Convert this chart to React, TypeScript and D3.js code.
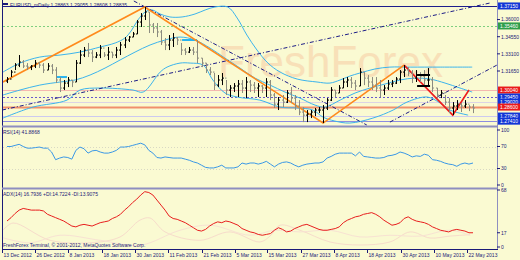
import React from "react";
import * as d3 from "d3";

// ---------- DATA ----------
const highs = [
  1.3114, 1.3173, 1.3232, 1.3300, 1.3258, 1.3232, 1.3215, 1.3258, 1.3241, 1.3232,
  1.3232, 1.3224, 1.3198, 1.3114, 1.3089, 1.3114, 1.3089, 1.3258, 1.3342, 1.3368,
  1.3402, 1.3342, 1.3325, 1.3385, 1.3325, 1.3368, 1.3325, 1.3368, 1.3410, 1.3452,
  1.3461, 1.3495, 1.3596, 1.3655, 1.3706, 1.3664, 1.3571, 1.3571, 1.3512, 1.3444,
  1.3469, 1.3486, 1.3452, 1.3402, 1.3359, 1.3368, 1.3368, 1.3427, 1.3274, 1.3232,
  1.3198, 1.3148, 1.3131, 1.3148, 1.3089, 1.3046, 1.3063, 1.3089, 1.3089, 1.3114,
  1.3089, 1.3072, 1.3063, 1.3046, 1.3105, 1.3089, 1.2979, 1.2945, 1.2962, 1.3004,
  1.3029, 1.2962, 1.2919, 1.2860, 1.2835, 1.2835, 1.2852, 1.2860, 1.2877, 1.2936,
  1.3029, 1.3004, 1.3046, 1.3105, 1.3114, 1.3114, 1.3089, 1.3190, 1.3156, 1.3131,
  1.3114, 1.3114, 1.3089, 1.3046, 1.3089, 1.3089, 1.3114, 1.3173, 1.3215, 1.3198,
  1.3173, 1.3173, 1.3156, 1.3173, 1.3190, 1.3114, 1.3021, 1.3004, 1.2962, 1.2936,
  1.2902, 1.2919, 1.2894, 1.2919, 1.2877, 1.2885,
];
const lows = [
  1.3063, 1.3114, 1.3173, 1.3198, 1.3190, 1.3173, 1.3173, 1.3190, 1.3190, 1.3148,
  1.3173, 1.3139, 1.3063, 1.2987, 1.3004, 1.3029, 1.3029, 1.3072, 1.3224, 1.3283,
  1.3283, 1.3241, 1.3274, 1.3274, 1.3283, 1.3258, 1.3274, 1.3274, 1.3300, 1.3359,
  1.3410, 1.3452, 1.3478, 1.3537, 1.3596, 1.3486, 1.3486, 1.3452, 1.3385, 1.3342,
  1.3342, 1.3368, 1.3385, 1.3300, 1.3300, 1.3317, 1.3300, 1.3232, 1.3198, 1.3148,
  1.3131, 1.3004, 1.3029, 1.3046, 1.2962, 1.2945, 1.2987, 1.2945, 1.2979, 1.2936,
  1.2987, 1.2979, 1.2945, 1.2979, 1.2945, 1.2919, 1.2852, 1.2835, 1.2860, 1.2894,
  1.2894, 1.2835, 1.2792, 1.2733, 1.2733, 1.2767, 1.2784, 1.2809, 1.2725, 1.2835,
  1.2911, 1.2945, 1.2979, 1.3021, 1.3029, 1.3021, 1.3004, 1.3038, 1.3046, 1.3029,
  1.3004, 1.2987, 1.2945, 1.2962, 1.3004, 1.3029, 1.3055, 1.3063, 1.3114, 1.3122,
  1.3063, 1.3072, 1.3072, 1.3038, 1.3046, 1.2987, 1.2936, 1.2936, 1.2877, 1.2809,
  1.2792, 1.2835, 1.2818, 1.2852, 1.2826, 1.2809,
];
const closes = [
  1.3097, 1.3156, 1.3215, 1.3241, 1.3207, 1.3198, 1.3207, 1.3232, 1.3215, 1.3173,
  1.3207, 1.3173, 1.3089, 1.3021, 1.3063, 1.3089, 1.3072, 1.3232, 1.3300, 1.3342,
  1.3317, 1.3283, 1.3300, 1.3359, 1.3300, 1.3325, 1.3300, 1.3342, 1.3385, 1.3427,
  1.3452, 1.3478, 1.3579, 1.3630, 1.3664, 1.3554, 1.3529, 1.3495, 1.3410, 1.3385,
  1.3427, 1.3444, 1.3427, 1.3342, 1.3325, 1.3342, 1.3325, 1.3274, 1.3232, 1.3173,
  1.3156, 1.3046, 1.3089, 1.3105, 1.3004, 1.3021, 1.3038, 1.3055, 1.3021, 1.3072,
  1.3046, 1.3021, 1.3038, 1.3021, 1.3072, 1.2962, 1.2885, 1.2919, 1.2902, 1.2979,
  1.2936, 1.2869, 1.2818, 1.2792, 1.2801, 1.2818, 1.2835, 1.2835, 1.2852, 1.2919,
  1.3004, 1.2979, 1.3021, 1.3072, 1.3089, 1.3063, 1.3038, 1.3156, 1.3105, 1.3072,
  1.3046, 1.3021, 1.3004, 1.3021, 1.3055, 1.3063, 1.3097, 1.3156, 1.3173, 1.3148,
  1.3105, 1.3131, 1.3122, 1.3089, 1.3089, 1.3021, 1.2962, 1.2979, 1.2902, 1.2852,
  1.2869, 1.2885, 1.2869, 1.2885, 1.2860, 1.2852,
];
const firstOpen = 1.3080;

const rsi = [
  70, 70, 72, 74, 70, 67, 67, 68, 69, 67,
  67, 60, 46, 49, 51, 50, 47, 63, 69, 66,
  58, 62, 63, 60, 58, 58, 60, 63, 69, 69,
  70, 72, 74, 76, 73, 63, 58, 50, 49, 51,
  50, 49, 49, 49, 47, 45, 42, 40, 36, 32,
  31, 31, 33, 36, 31, 31, 31, 33, 40, 38,
  40, 40, 38, 40, 43, 38, 33, 38, 41, 42,
  40, 36, 33, 36, 38, 39, 40, 40, 42, 49,
  52, 56, 58, 58, 58, 58, 53, 60, 52, 51,
  50, 49, 49, 50, 53, 54, 56, 60, 58, 55,
  51, 53, 52, 56, 54, 46, 45, 43, 40, 38,
  37, 34, 38, 40, 38, 40,
];
const adx = [
  31, 35, 40, 44, 46, 45, 44, 44, 44, 43,
  39, 37, 35, 33, 31, 28, 25, 24, 26, 27,
  26, 25, 27, 29, 30, 31, 34, 36, 39, 44,
  48, 53, 57, 62, 66, 65, 62, 56, 50, 44,
  37, 34, 33, 31, 29, 26, 23, 20, 19, 21,
  25, 28, 30, 29, 31, 30, 28, 26, 22, 20,
  18, 17, 15, 14, 15, 16, 20, 23, 21, 18,
  19, 22, 24, 26, 27, 25, 23, 21, 20, 20,
  21, 22, 24, 29, 32, 34, 36, 37, 39, 40,
  41, 39, 36, 32, 29, 26, 27, 29, 34, 36,
  33, 31, 30, 29, 27, 24, 22, 20, 19, 18,
  20, 21, 20, 19, 17, 17,
];
const plusDI: [number, number][] = [
  [-1, 20], [1.5, 28.6], [10.6, 8], [20.5, 5], [27.9, 12], [32.8, 32], [35.3, 34.6],
  [39, 18], [47.6, 8], [55, 18], [62.4, 6], [64.9, 13], [67.4, 26], [72.3, 20],
  [79.7, 6], [87.1, 2.4], [94.5, 6], [99.5, 18], [104.4, 10.7], [109.3, 13], [114.3, 14.7],
];
const minusDI: [number, number][] = [
  [-1, 11], [5.7, 5], [13.1, 14], [23, 8], [32.8, 2], [42.7, 20], [50.1, 26],
  [60, 14], [66.1, 20], [72.3, 18], [79.7, 20], [87.1, 12], [94.5, 14],
  [101.9, 13], [109.3, 20], [114.3, 13.9],
];

const bbUpper: [number, number][] = [
  [-1, 1.3156], [3.2, 1.3232], [8.1, 1.3283], [13.1, 1.3300], [18, 1.3325], [23, 1.3368],
  [26.7, 1.3402], [29.1, 1.3444], [30.8, 1.3512], [32.3, 1.3596], [34.1, 1.3664],
  [35.8, 1.3681], [37.8, 1.3647], [40.2, 1.3622], [43.2, 1.3622], [46.4, 1.3647],
  [48.9, 1.3681], [51.3, 1.3706], [54.5, 1.3706], [56.8, 1.3613], [59.2, 1.3469],
  [61.7, 1.3342], [64.4, 1.3232], [67.4, 1.3156], [71.6, 1.3097], [76.5, 1.3072],
  [79.7, 1.3063], [82.2, 1.3089], [84.6, 1.3122], [87.1, 1.3148], [90.8, 1.3182],
  [94.5, 1.3198], [99.5, 1.3198], [106.9, 1.3198], [114.8, 1.3198],
];
const bbMiddle: [number, number][] = [
  [-1, 1.2962], [3.2, 1.3004], [8.1, 1.3046], [13.1, 1.3072], [16.8, 1.3089], [20.5, 1.3131],
  [24.2, 1.3190], [27.9, 1.3258], [31.6, 1.3325], [35.3, 1.3385], [39, 1.3427],
  [42.7, 1.3452], [46.4, 1.3427], [50.1, 1.3359], [53.8, 1.3274], [57.5, 1.3190],
  [61.2, 1.3105], [64.9, 1.3046], [68.6, 1.2987], [72.3, 1.2936], [76, 1.2877],
  [78.5, 1.2860], [82.2, 1.2919], [85.9, 1.2979], [89.6, 1.3021], [93.3, 1.3055],
  [97, 1.3089], [100.7, 1.3105], [104.4, 1.3097], [108.1, 1.3063], [111.8, 1.3021],
  [114.8, 1.2987],
];
const bbLower: [number, number][] = [
  [-1, 1.2767], [6.4, 1.2860], [14.8, 1.2919], [18, 1.3004], [23, 1.3021], [31.1, 1.3004],
  [33.6, 1.2987], [37.8, 1.3156], [39.5, 1.3198], [42.7, 1.3232], [45.2, 1.3232],
  [48.4, 1.3215], [50.8, 1.3089], [53.8, 1.2979], [56.8, 1.2945], [62.4, 1.2919],
  [67.4, 1.2860], [71.6, 1.2852], [75.5, 1.2835], [78, 1.2775], [80.9, 1.2742],
  [84.6, 1.2725], [90.3, 1.2767], [95.3, 1.2835], [98.7, 1.2902], [103.7, 1.2945],
  [106.9, 1.2894], [109.3, 1.2835], [113.8, 1.2792],
];

const zigzagOrange: [number, number][] = [[-1, 1.3072], [34, 1.3706], [78, 1.2725], [98, 1.3215]];
const zigzagRed: [number, number][] = [[98, 1.3215], [110, 1.2792], [114, 1.3004]];
const trendLines: [number, number, number, number][] = [
  [-1.2, 1.2835, 119.2, 1.3740],
  [31.3, 1.3757, 88.8, 1.2708],
  [94.5, 1.2733, 120.9, 1.3215],
];
const cyanMarks: [number, number, number][] = [[12.3, 14.8, 1.3114], [43.2, 46.9, 1.3427]];
const blackMarks: [number, number, number][] = [[101.2, 104.4, 1.3131], [101.2, 104.4, 1.3038]];

const levelPrices = [1.3715, 1.3546, 1.3004, 1.2945, 1.2902, 1.2860, 1.2784, 1.2741];
const levelKinds = ["blue", "green", "red", "blue", "blue", "red", "blue", "blue"];
const priceTicks = [1.36, 1.3455, 1.331, 1.3165];

const dateLabels = [
  "13 Dec 2012", "26 Dec 2012", "8 Jan 2013", "18 Jan 2013", "30 Jan 2013", "11 Feb 2013",
  "21 Feb 2013", "5 Mar 2013", "15 Mar 2013", "27 Mar 2013", "8 Apr 2013", "18 Apr 2013",
  "30 Apr 2013", "10 May 2013", "22 May 2013",
];
const dateIdx = [-1.2, 6.9, 15.05, 23.4, 31.6, 39.7, 48.1, 56.3, 64.2, 72.6, 80.7, 88.8, 97.2, 105.4, 113.5];
const rsiTicks = [100, 70, 30, 0];
const rsiLevels = [70, 30];
const adxTicks = [68, 17, 0];

const headerText = "EURUSD_mDaily 1.28863 1.29055 1.28608 1.28835";
const rsiLabel = "RSI(14) 41.8868";
const adxLabel = "ADX(14) 16.7936 +DI:14.7224 -DI:13.9075";
const copyright = "FreshForex Terminal, \u00a9 2001-2012, MetaQuotes Software Corp.";
const watermark = "FreshForex";

// ---------- STYLES ----------
const BG = "#FAFAD2";
const NAVY = "#1a1a78";
const FRAME = "#8e8ec0";
const FONT = "'Liberation Sans', Arial, sans-serif";
const levelStyles = [
  { stroke: "#1e1e8c", w: 1, dash: undefined },
  { stroke: "#7fcf7f", w: 1, dash: "2,2" },
  { stroke: "#f5b8b0", w: 1, dash: undefined },
  { stroke: "#6a5acd", w: 1, dash: "2,2" },
  { stroke: "#dcd4e4", w: 1, dash: undefined },
  { stroke: "#f0906c", w: 2, dash: undefined },
  { stroke: "#cccaf0", w: 1, dash: undefined },
  { stroke: "#8c8ce0", w: 1, dash: undefined },
];
const boxColors: Record<string, string> = { blue: "#1236d6", green: "#2f9e4a", red: "#ea1a1a" };

const L = 3, R = 497;
const MAIN = { top: 0, bottom: 126 };
const RSIP = { top: 127, bottom: 188 };
const ADXP = { top: 189, bottom: 249 };

export default function App() {
  const x = d3.scaleLinear().domain([0, 115]).range([7, 473]);
  const y = d3.scaleLinear().domain([1.27, 1.374]).range([126, 3]);
  const ry = d3.scaleLinear().domain([0, 100]).range([185, 130]);
  const ay = d3.scaleLinear().domain([0, 68]).range([247, 190]);

  const opens = closes.map((_, i) => (i === 0 ? firstOpen : closes[i - 1]));

  const pairLine = d3
    .line<[number, number]>()
    .x((d) => x(d[0]))
    .y((d) => y(d[1]))
    .curve(d3.curveCatmullRom.alpha(0.5));
  const straight = d3
    .line<[number, number]>()
    .x((d) => x(d[0]))
    .y((d) => y(d[1]));
  const rsiLine = d3
    .line<number>()
    .x((_, i) => x(i))
    .y((d) => ry(d));
  const adxLine = d3
    .line<number>()
    .x((_, i) => x(i))
    .y((d) => ay(d));
  const diLine = d3
    .line<[number, number]>()
    .x((d) => x(d[0]))
    .y((d) => ay(d[1]))
    .curve(d3.curveCatmullRom.alpha(0.5));

  const fmt = d3.format(".5f");

  return (
    <svg
      width={520}
      height={260}
      style={{ position: "fixed", left: 0, top: 0, background: BG }}
      fontFamily={FONT}
    >
      <defs>
        <clipPath id="mainClip">
          <rect x={L} y={MAIN.top} width={R - L} height={MAIN.bottom - MAIN.top} />
        </clipPath>
        <clipPath id="rsiClip">
          <rect x={L} y={RSIP.top} width={R - L} height={RSIP.bottom - RSIP.top} />
        </clipPath>
        <clipPath id="adxClip">
          <rect x={L} y={ADXP.top} width={R - L} height={ADXP.bottom - ADXP.top} />
        </clipPath>
      </defs>
      <rect x={0} y={0} width={520} height={260} fill={BG} />

      {/* ---------- MAIN PANEL ---------- */}
      <g clipPath="url(#mainClip)">
        <text x={218} y={77} fontSize={44} fill="#f7c8a0" opacity={0.5} fontFamily={FONT}>
          {watermark}
        </text>

        {levelPrices.map((p, i) => (
          <line
            key={"lv" + i}
            x1={L}
            x2={R}
            y1={Math.round(y(p)) + 0.5}
            y2={Math.round(y(p)) + 0.5}
            stroke={levelStyles[i].stroke}
            strokeWidth={levelStyles[i].w}
            strokeDasharray={levelStyles[i].dash}
          />
        ))}

        {[bbUpper, bbMiddle, bbLower].map((band, i) => (
          <path key={"bb" + i} d={pairLine(band) || ""} fill="none" stroke="#3cb4ec" strokeWidth={1} />
        ))}

        {trendLines.map((t, i) => (
          <path
            key={"tl" + i}
            d={straight([[t[0], t[1]], [t[2], t[3]]]) || ""}
            fill="none"
            stroke="#1c1c86"
            strokeWidth={1}
            strokeDasharray="4,2,1,2"
          />
        ))}

        {cyanMarks.map((m, i) => (
          <path
            key={"cm" + i}
            d={straight([[m[0], m[2]], [m[1], m[2]]]) || ""}
            stroke="#28b4f0"
            strokeWidth={2}
          />
        ))}

        <path d={straight(zigzagOrange) || ""} fill="none" stroke="#ff8a1c" strokeWidth={1.6} />
        <path d={straight(zigzagRed) || ""} fill="none" stroke="#ee1c1c" strokeWidth={1.6} />

        {closes.map((c, i) => {
          const xi = Math.round(x(i)) + 0.5;
          const o = opens[i];
          const col = c >= o ? "#000000" : "#8c8c80";
          const d = `M${xi},${y(highs[i])}V${y(lows[i])}M${xi - 1.5},${y(o)}H${xi}M${xi},${y(c)}H${xi + 1.5}`;
          return <path key={"b" + i} d={d} stroke={col} strokeWidth={1} fill="none" />;
        })}

        {blackMarks.map((m, i) => (
          <path
            key={"bm" + i}
            d={straight([[m[0], m[2]], [m[1], m[2]]]) || ""}
            stroke="#000"
            strokeWidth={2}
          />
        ))}

        <rect x={3} y={3} width={5} height={2} fill={NAVY} />
        <text x={10} y={7} fontSize={5} fill={NAVY}>
          {headerText}
        </text>
      </g>

      {/* ---------- RSI PANEL ---------- */}
      <g clipPath="url(#rsiClip)">
        {rsiLevels.map((v) => (
          <line
            key={"rl" + v}
            x1={L}
            x2={R}
            y1={Math.round(ry(v)) + 0.5}
            y2={Math.round(ry(v)) + 0.5}
            stroke="#d8d8c4"
            strokeDasharray="1,2"
          />
        ))}
        <path d={rsiLine(rsi) || ""} fill="none" stroke="#3a98e6" strokeWidth={1} />
        <text x={3} y={134} fontSize={5} fill={NAVY}>
          {rsiLabel}
        </text>
      </g>

      {/* ---------- ADX PANEL ---------- */}
      <g clipPath="url(#adxClip)">
        <path d={diLine(plusDI) || ""} fill="none" stroke="#f7dccb" strokeWidth={1} />
        <path d={diLine(minusDI) || ""} fill="none" stroke="#f8e2d2" strokeWidth={1} />
        <path d={adxLine(adx) || ""} fill="none" stroke="#e81e1e" strokeWidth={1} />
        <text x={3} y={196} fontSize={5} fill={NAVY}>
          {adxLabel}
        </text>
        <text x={3} y={247} fontSize={5} fill={NAVY}>
          {copyright}
        </text>
      </g>

      {/* ---------- FRAMES ---------- */}
      <line x1={2.5} x2={2.5} y1={0} y2={250} stroke={NAVY} strokeWidth={1} />
      <line x1={497.5} x2={497.5} y1={0} y2={250} stroke={FRAME} strokeWidth={1} />
      <line x1={2} x2={498} y1={126.5} y2={126.5} stroke={FRAME} strokeWidth={2} />
      <line x1={2} x2={498} y1={188.5} y2={188.5} stroke={FRAME} strokeWidth={2} />
      <line x1={2} x2={498} y1={249.5} y2={249.5} stroke={NAVY} strokeWidth={1} />

      {/* ---------- RIGHT AXIS ---------- */}
      {priceTicks.map((p) => (
        <g key={"pt" + p}>
          <line x1={497} x2={500} y1={y(p)} y2={y(p)} stroke={NAVY} />
          <text x={501} y={y(p) + 1.8} fontSize={5} fill={NAVY}>
            {fmt(p)}
          </text>
        </g>
      ))}
      {levelPrices.map((p, i) => (
        <g key={"lb" + i}>
          <rect x={498} y={y(p) - 3.5} width={22} height={7} fill={boxColors[levelKinds[i]]} />
          <text x={500} y={y(p) + 1.8} fontSize={5} fill="#ffffff">
            {fmt(p)}
          </text>
        </g>
      ))}
      {rsiTicks.map((v) => (
        <g key={"rt" + v}>
          <line x1={497} x2={500} y1={ry(v)} y2={ry(v)} stroke={NAVY} />
          <text x={501} y={ry(v) + 1.8} fontSize={5} fill={NAVY}>
            {v}
          </text>
        </g>
      ))}
      {adxTicks.map((v) => (
        <g key={"at" + v}>
          <line x1={497} x2={500} y1={ay(v)} y2={ay(v)} stroke={NAVY} />
          <text x={501} y={ay(v) + 1.8} fontSize={5} fill={NAVY}>
            {v}
          </text>
        </g>
      ))}

      {/* ---------- DATE AXIS ---------- */}
      {dateLabels.map((lab, i) => {
        const xi = Math.round(x(dateIdx[i])) + 0.5;
        return (
          <g key={"d" + i}>
            <line x1={xi} x2={xi} y1={250} y2={253} stroke={NAVY} />
            <text x={xi + 1} y={257} fontSize={5} fill={NAVY}>
              {lab}
            </text>
          </g>
        );
      })}
    </svg>
  );
}
